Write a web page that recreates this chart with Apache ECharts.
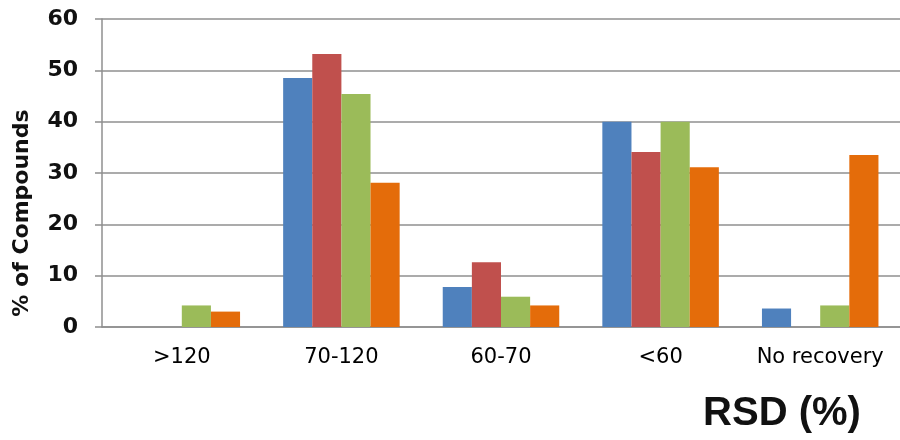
<!DOCTYPE html>
<html>
<head>
<meta charset="utf-8">
<script src="https://cdn.jsdelivr.net/npm/echarts@6/dist/echarts.min.js"></script>
<style>
  html, body { margin: 0; padding: 0; background: #fff; }
  #chart { width: 900px; height: 440px; }
</style>
</head>
<body>
<div id="chart"></div>
<script>
// Recovery classes (RSD bins) on the category axis
const categories = ['>120', '70-120', '60-70', '<60', 'No recovery'];

// Percentage of compounds in each class, one array per series
const seriesA = [0, 48.5, 7.8, 40.0, 3.6];
const seriesB = [0, 53.2, 12.6, 34.1, 0];
const seriesC = [4.2, 45.4, 5.9, 40.0, 4.2];
const seriesD = [3.0, 28.1, 4.2, 31.1, 33.5];

// Value axis ticks
const yTicks = { min: 0, max: 60, interval: 10 };

const colors = ['#4F81BD', '#C0504D', '#9BBB59', '#E46C0A'];
const gridGray = '#8f8f8f';

const chart = echarts.init(document.getElementById('chart'), null, { renderer: 'canvas' });

function bar(name, data, color) {
  return {
    name: name,
    type: 'bar',
    data: data,
    barGap: '0%',
    barCategoryGap: '27%',
    itemStyle: { color: color },
    emphasis: { disabled: true },
    animation: false
  };
}

chart.setOption({
  animation: false,
  grid: { left: 102, right: 0, top: 19, bottom: 113, containLabel: false },
  xAxis: {
    type: 'category',
    data: categories,
    axisLine: { lineStyle: { color: gridGray, width: 1.5 } },
    axisTick: { show: false },
    axisLabel: {
      interval: 0,
      hideOverlap: false,
      margin: 20,
      fontFamily: 'DejaVu Sans',
      fontSize: 21,
      color: '#000'
    }
  },
  yAxis: {
    type: 'value',
    min: yTicks.min,
    max: yTicks.max,
    interval: yTicks.interval,
    axisLine: { show: true, lineStyle: { color: gridGray, width: 1.5 } },
    axisTick: { show: true, length: 7, lineStyle: { color: gridGray, width: 1.5 } },
    splitLine: { lineStyle: { color: gridGray, width: 1.5 } },
    axisLabel: {
      margin: 24,
      fontFamily: 'DejaVu Sans',
      fontWeight: 'bold',
      fontSize: 22,
      color: '#111'
    }
  },
  graphic: [
    {
      type: 'text',
      x: 22,
      y: 213,
      rotation: Math.PI / 2,
      style: {
        text: '% of Compounds',
        fontFamily: 'DejaVu Sans',
        fontWeight: 'bold',
        fontSize: 22,
        fill: '#111',
        textAlign: 'center',
        textVerticalAlign: 'middle'
      }
    },
    {
      type: 'text',
      x: 782,
      y: 414,
      style: {
        text: 'RSD (%)',
        fontFamily: 'Liberation Sans',
        fontWeight: 'bold',
        fontSize: 40,
        fill: '#111',
        textAlign: 'center',
        textVerticalAlign: 'middle'
      }
    }
  ],
  series: [
    bar('A', seriesA, colors[0]),
    bar('B', seriesB, colors[1]),
    bar('C', seriesC, colors[2]),
    bar('D', seriesD, colors[3])
  ]
});
</script>
</body>
</html>
